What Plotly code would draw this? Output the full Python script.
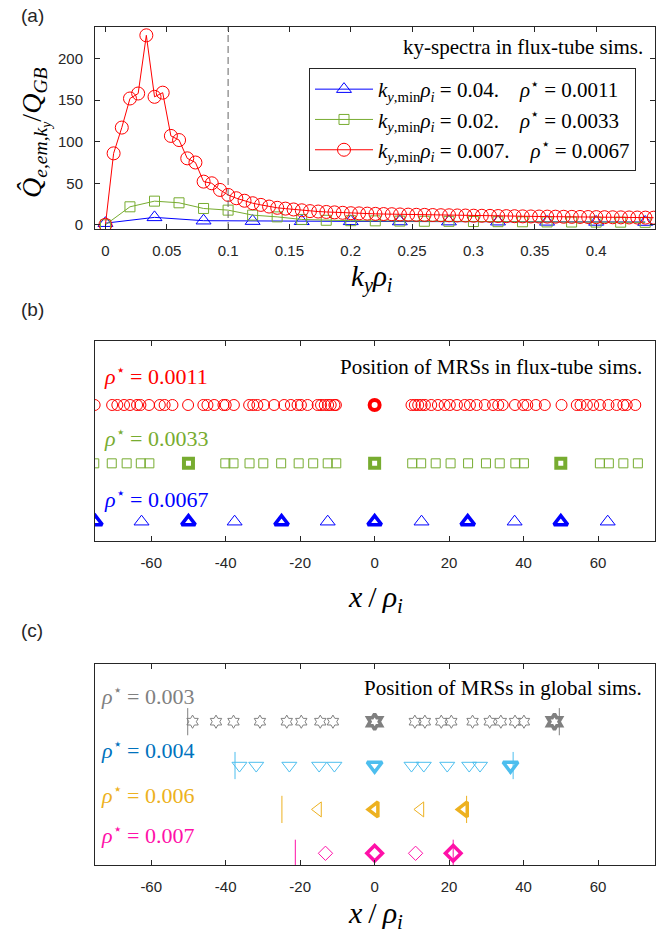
import plotly.graph_objects as go

# ---------------- Panel (a): ky-spectra ----------------
KYMIN_BLUE = 0.04
KYMIN_GREEN = 0.02
KYMIN_RED = 0.00667

q_blue = [2, 9, 5, 4.5, 4.3, 4.2, 4, 3.9, 3.8, 3.6, 3.5, 3.4]
q_green = [0, 21.7, 28.5, 26.5, 19.7, 17.7, 11.7, 9.6, 6.5, 5.5, 5, 4.8,
           4.5, 4.3, 4.2, 4.0, 3.8, 3.7, 3.5, 3.4, 3.3, 3.2, 3.0]
q_red = [0, 86, 117, 152, 158, 228, 154, 159, 107, 102,
         80, 75, 52, 50, 42, 36, 32, 29, 26, 24,
         22, 20.5, 19.5, 18.5, 17.5, 16.5, 16, 15.5, 15, 14.5,
         14, 13.8, 13.5, 13.2, 13, 12.8, 12.5, 12.3, 12.1, 12,
         11.8, 11.6, 11.5, 11.3, 11.2, 11, 10.9, 10.8, 10.6, 10.5,
         10.4, 10.2, 10.1, 10, 9.9, 9.8, 9.7, 9.6, 9.5, 9.4,
         9.3, 9.2, 9.1, 9.0, 8.9, 8.8, 8.7, 8.6]
ky_blue = [n * KYMIN_BLUE for n in range(len(q_blue))]
ky_green = [n * KYMIN_GREEN for n in range(len(q_green))]
ky_red = [n * KYMIN_RED for n in range(len(q_red))]

SP = "\u2003"
legend_blue = "<i>k</i><sub><i>y</i>,min</sub><i>ρ</i><sub><i>i</i></sub> = 0.04." + SP + "<i>ρ</i><sup>⋆</sup> = 0.0011"
legend_green = "<i>k</i><sub><i>y</i>,min</sub><i>ρ</i><sub><i>i</i></sub> = 0.02." + SP + "<i>ρ</i><sup>⋆</sup> = 0.0033"
legend_red = "<i>k</i><sub><i>y</i>,min</sub><i>ρ</i><sub><i>i</i></sub> = 0.007." + SP + "<i>ρ</i><sup>⋆</sup> = 0.0067"
KY_CUT = 0.1

xticks_a = [0, 0.05, 0.1, 0.15, 0.2, 0.25, 0.3, 0.35, 0.4]
xticktext_a = ["0", "0.05", "0.1", "0.15", "0.2", "0.25", "0.3", "0.35", "0.4"]
yticks_a = [0, 50, 100, 150, 200]

# ---------------- Panel (b): MRS positions, flux-tube ----------------
ft_red_thin = [-75.2, -70.5, -69.1, -67.3, -65.7, -63.8, -62.9, -60.6, -57.7, -56.4,
               -54.3, -50.1, -46.0, -44.9, -43.1, -40.6, -40.0, -37.8, -33.7, -32.6,
               -31.5, -29.7, -27.0, -24.3, -22.5, -20.7, -19.8, -18.0, -15.3, -14.4,
               -13.4, -12.5, -11.8, -10.8, -10.4,
               9.9, 10.8, 11.7, 12.6, 13.5, 15.2, 17.0, 18.8, 20.2, 22.1,
               24.2, 25.6, 27.4, 29.6, 31.8, 33.2, 34.4, 37.7, 39.9, 41.0,
               43.3, 45.7, 50.2, 54.3, 55.3, 57.0, 58.7, 60.5, 62.8, 65.0,
               66.8, 67.7, 70.0]
ft_red_main = [0]
ft_green_thin = [-75.3, -70.6, -66.6, -62.8, -60.5, -40.1, -37.9, -33.6, -29.9, -25.1,
                 -20.4, -16.5, -12.6, -10.3, 10.1, 12.5, 16.4, 20.4, 25.1, 29.9,
                 33.6, 37.8, 40.1, 60.5, 62.9, 66.8, 70.7]
ft_green_main = [-50, 0, 50]
ft_blue_thin = [-62.6, -37.6, -12.6, 12.6, 37.6, 62.6]
ft_blue_main = [-75, -50, -25, 0, 25, 50]
ft_labels = ["<i>ρ</i><sup>⋆</sup> = 0.0011", "<i>ρ</i><sup>⋆</sup> = 0.0033", "<i>ρ</i><sup>⋆</sup> = 0.0067"]
ROWS_B = [3, 2, 1]

# ---------------- Panel (c): MRS positions, global ----------------
gl_gray_thin = [-48.9, -42.6, -37.9, -30.8, -23.6, -19.7, -14.6, -11.2,
                10.8, 13.5, 17.9, 20.6, 26.3, 30.9, 33.9, 37.7, 40.1]
gl_gray_main = [0, 48.3]
gl_gray_edge = [-50.2, 49.6]
gl_cyan_thin = [-36.3, -31.8, -22.9, -14.9, -10.8, 9.9, 13.2, 19.5, 25.4, 28.3]
gl_cyan_main = [0, 36.5]
gl_cyan_edge = [-37.5, 37.2]
gl_orange_thin = [-15.2, 12.3]
gl_orange_main = [0, 24.0]
gl_orange_edge = [-24.9, 24.7]
gl_pink_thin = [-13.2, 11.0]
gl_pink_main = [0, 21.1]
gl_pink_edge = [-21.3, 21.1]
gl_labels = ["<i>ρ</i><sup>⋆</sup> = 0.003", "<i>ρ</i><sup>⋆</sup> = 0.004",
             "<i>ρ</i><sup>⋆</sup> = 0.006", "<i>ρ</i><sup>⋆</sup> = 0.007"]
ROWS_C = [4, 3, 2, 1]

xticks_bc = [-60, -40, -20, 0, 20, 40, 60]
xticktext_bc = ["-60", "-40", "-20", "0", "20", "40", "60"]

# ---------------- styling ----------------
SERIF = "Liberation Serif"
SANS = "Liberation Sans"
AX = "#262626"
RED, GREEN, BLUE = "#FF0000", "#77AC30", "#0000FF"
GRAY, CYAN, CYAN_TXT, ORANGE, PINK = "#808080", "#4DBEEE", "#0072BD", "#EDB120", "#FF10A8"

W, H = 656, 938
ML, MR, MT, MB = 95, 1, 27, 73
PW, PH = W - ML - MR, H - MT - MB


def px(xp):
    return (xp - ML) / PW


def py(yp):
    return 1 - (yp - MT) / PH


fig = go.Figure()

# panel (a)
for kx, qv, col, sym, sz, nm in [
    (ky_blue, q_blue, BLUE, "triangle-up-open", 13, legend_blue),
    (ky_green, q_green, GREEN, "square-open", 10, legend_green),
    (ky_red, q_red, RED, "circle-open", 13, legend_red),
]:
    fig.add_trace(go.Scatter(x=kx, y=qv, mode="lines+markers", name=nm,
                             line=dict(color=col, width=1),
                             marker=dict(symbol=sym, size=sz, color=col, line=dict(width=1, color=col)),
                             xaxis="x", yaxis="y"))


def row_trace(xs, yrow, col, sym, sz, lw, xa, ya):
    fig.add_trace(go.Scatter(x=xs, y=[yrow] * len(xs), mode="markers", showlegend=False,
                             marker=dict(symbol=sym, size=sz, color=col, line=dict(width=lw, color=col)),
                             xaxis=xa, yaxis=ya))


def edge_trace(xs, yrow, col, xa, ya):
    xx, yy = [], []
    for v in xs:
        xx += [v, v, None]
        yy += [yrow - 0.31, yrow + 0.31, None]
    fig.add_trace(go.Scatter(x=xx, y=yy, mode="lines", showlegend=False,
                             line=dict(color=col, width=1), xaxis=xa, yaxis=ya))


# panel (b)
row_trace(ft_red_thin, ROWS_B[0], RED, "circle-open", 11, 1, "x2", "y2")
row_trace(ft_red_main, ROWS_B[0], RED, "circle-open", 10, 4, "x2", "y2")
row_trace(ft_green_thin, ROWS_B[1], GREEN, "square-open", 9, 1, "x2", "y2")
row_trace(ft_green_main, ROWS_B[1], GREEN, "square-open", 9, 4, "x2", "y2")
row_trace(ft_blue_thin, ROWS_B[2], BLUE, "triangle-up-open", 13, 1, "x2", "y2")
row_trace(ft_blue_main, ROWS_B[2], BLUE, "triangle-up-open", 12, 3.5, "x2", "y2")

# panel (c)
edge_trace(gl_gray_edge, ROWS_C[0], GRAY, "x3", "y3")
edge_trace(gl_cyan_edge, ROWS_C[1], CYAN, "x3", "y3")
edge_trace(gl_orange_edge, ROWS_C[2], ORANGE, "x3", "y3")
edge_trace(gl_pink_edge, ROWS_C[3], PINK, "x3", "y3")
row_trace(gl_gray_thin, ROWS_C[0], GRAY, "hexagram-open", 10, 1, "x3", "y3")
row_trace(gl_gray_main, ROWS_C[0], GRAY, "hexagram-open", 12, 3.5, "x3", "y3")
row_trace(gl_cyan_thin, ROWS_C[1], CYAN, "triangle-down-open", 13, 1, "x3", "y3")
row_trace(gl_cyan_main, ROWS_C[1], CYAN, "triangle-down-open", 13, 3.5, "x3", "y3")
row_trace(gl_orange_thin, ROWS_C[2], ORANGE, "triangle-left-open", 13, 1, "x3", "y3")
row_trace(gl_orange_main, ROWS_C[2], ORANGE, "triangle-left-open", 13, 3.5, "x3", "y3")
row_trace(gl_pink_thin, ROWS_C[3], PINK, "diamond-open", 11, 1, "x3", "y3")
row_trace(gl_pink_main, ROWS_C[3], PINK, "diamond-open", 12, 3.5, "x3", "y3")

axcommon = dict(showline=True, linecolor=AX, linewidth=1, mirror="ticks", ticks="inside",
                ticklen=5, tickcolor=AX, tickwidth=1, showgrid=False, zeroline=False,
                tickfont=dict(family=SANS, size=15, color=AX))
nolab_y = dict(showline=True, linecolor=AX, linewidth=1, mirror=True, ticks="",
               showticklabels=False, showgrid=False, zeroline=False)

fig.update_layout(
    width=W, height=H, margin=dict(l=ML, r=MR, t=MT, b=MB),
    plot_bgcolor="white", paper_bgcolor="white",
    xaxis=dict(domain=[0, 1], anchor="y", range=[-0.0085, 0.448], tickvals=xticks_a,
               ticktext=xticktext_a, ticklabelstandoff=8, **axcommon),
    yaxis=dict(domain=[py(229), 1], anchor="x", range=[-5, 238], tickvals=yticks_a,
               ticklabelstandoff=8, **axcommon),
    xaxis2=dict(domain=[0, 1], anchor="y2", range=[-75.1, 75.3], tickvals=xticks_bc,
                ticktext=xticktext_bc, ticklabelstandoff=8, **axcommon),
    yaxis2=dict(domain=[py(540.7), py(340.7)], anchor="x2", range=[0.674, 4.102], **nolab_y),
    xaxis3=dict(domain=[0, 1], anchor="y3", range=[-75.1, 75.3], tickvals=xticks_bc,
                ticktext=xticktext_bc, ticklabelstandoff=8, **axcommon),
    yaxis3=dict(domain=[0, py(664)], anchor="x3", range=[0.733, 5.315], **nolab_y),
    legend=dict(x=px(636), xanchor="right", y=py(68), yanchor="top", bgcolor="white",
                bordercolor=AX, borderwidth=1, itemwidth=58,
                font=dict(family=SERIF, size=21, color="black")),
    showlegend=True,
)

fig.add_shape(type="line", xref="x", yref="y domain", x0=KY_CUT, x1=KY_CUT, y0=0, y1=1,
              line=dict(color="#666666", width=1, dash="7px,4px"))

ann = []


def A(text, x, y, xref="paper", yref="paper", size=18, color="black", family=SERIF,
      xanchor="center", yanchor="middle", angle=0):
    ann.append(dict(text=text, x=x, y=y, xref=xref, yref=yref, showarrow=False,
                    font=dict(family=family, size=size, color=color),
                    xanchor=xanchor, yanchor=yanchor, textangle=angle))


A("(a)", px(32), py(16), size=19, family=SANS, color=AX)
A("(b)", px(32), py(309), size=19, family=SANS, color=AX)
A("(c)", px(32), py(630), size=19, family=SANS, color=AX)

A("ky-spectra in flux-tube sims.", px(645), py(47), size=21, xanchor="right")
A("<i>k</i><sub><i>y</i></sub><i>ρ</i><sub><i>i</i></sub>", px(372), py(278), size=29)
A("<i>Q̂</i><sub><i>e,em,k</i><sub><i>y</i></sub></sub>/<i>Q</i><sub><i>GB</i></sub>",
  px(35), py(133), size=28, angle=-90)

A("Position of MRSs in flux-tube sims.", px(644), py(367), size=21, xanchor="right")
for lab, col, yv in zip(ft_labels, [RED, GREEN, BLUE], [3.51, 2.45, 1.41]):
    A(lab, -73.3, yv, xref="x2", yref="y2", size=22, color=col, xanchor="left")
A("<i>x</i>\u2009/\u2009<i>ρ</i><sub><i>i</i></sub>", px(375), py(599), size=30)

A("Position of MRSs in global sims.", px(644), py(688), size=21, xanchor="right")
for lab, col, yv in zip(gl_labels, [GRAY, CYAN_TXT, ORANGE, PINK], [4.61, 3.38, 2.36, 1.45]):
    A(lab, -74.0, yv, xref="x3", yref="y3", size=22, color=col, xanchor="left")
A("<i>x</i>\u2009/\u2009<i>ρ</i><sub><i>i</i></sub>", px(375), py(915), size=30)

fig.update_layout(annotations=ann)
fig.write_html("out.html", config={"displayModeBar": False},
               post_script="document.body.style.margin='0';document.body.style.overflow='hidden';")
